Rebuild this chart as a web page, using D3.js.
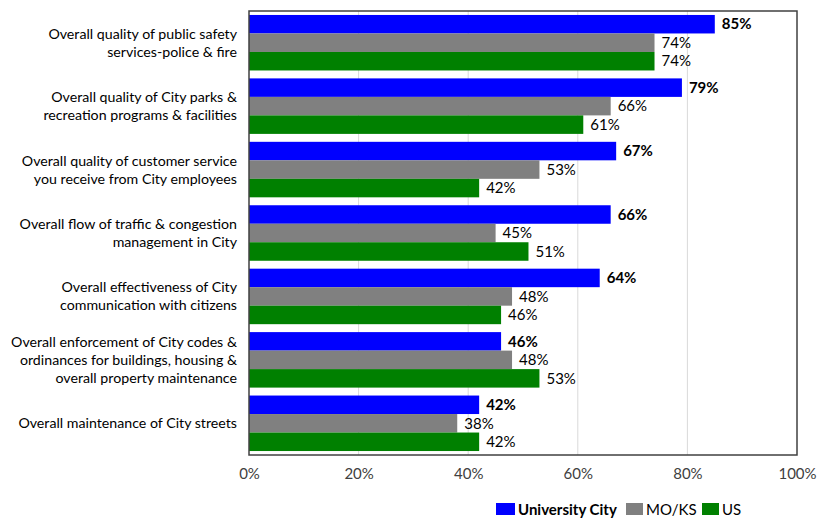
<!DOCTYPE html>
<html><head><meta charset="utf-8">
<script src="https://cdn.jsdelivr.net/npm/d3@7"></script>
<style>body{margin:0;background:#fff}svg{display:block}text{font-family:Lato,"Open Sans",sans-serif}</style>
</head><body><div id="c"></div>
<script>
const categories = [
  ["Overall quality of public safety","services-police & fire"],
  ["Overall quality of City parks &","recreation programs & facilities"],
  ["Overall quality of customer service","you receive from City employees"],
  ["Overall flow of traffic & congestion","management in City"],
  ["Overall effectiveness of City","communication with citizens"],
  ["Overall enforcement of City codes &","ordinances for buildings, housing &","overall property maintenance"],
  ["Overall maintenance of City streets"]
];
const seriesNames = ["University City","MO/KS","US"];
const universityCity = [85,79,67,66,64,46,42];
const moks = [74,66,53,45,48,48,38];
const us = [74,61,42,51,46,53,42];
const seriesValues = [universityCity, moks, us];
const xTicks = [0,20,40,60,80,100];
const colors = ["#0000FF","#808080","#008000"];

const W=817,H=518;
const m={l:249,r:20,t:11,b:63};
const pw=W-m.l-m.r, ph=H-m.t-m.b;
const svg=d3.select("#c").append("svg").attr("width",W).attr("height",H);
const g=svg.append("g").attr("transform",`translate(${m.l},${m.t})`);
const x=d3.scaleLinear().domain([0,100]).range([0,pw]);
const y0=d3.scaleBand().domain(d3.range(categories.length)).range([0,ph]).paddingInner(0.125).paddingOuter(0.0625);
const y1=d3.scaleBand().domain(d3.range(3)).range([0,y0.bandwidth()]);

g.selectAll(".grid").data(xTicks.slice(1,-1)).join("line")
  .attr("x1",d=>x(d)).attr("x2",d=>x(d)).attr("y1",0).attr("y2",ph)
  .attr("stroke","#d9d9d9").attr("stroke-width",1);

const groups=g.selectAll(".grp").data(categories).join("g")
  .attr("transform",(d,i)=>`translate(0,${y0(i)})`);
groups.each(function(d,i){
  const gg=d3.select(this);
  seriesValues.forEach((vals,s)=>{
    gg.append("rect").attr("x",0).attr("y",y1(s)).attr("width",x(vals[i])).attr("height",y1.bandwidth()).attr("fill",colors[s]);
    gg.append("text").attr("x",x(vals[i])+7).attr("y",y1(s)+y1.bandwidth()/2).attr("dy","0.35em")
      .attr("font-size",15).attr("font-weight",s===0?"bold":"normal").attr("fill","#000").text(vals[i]+"%");
  });
});

// category labels
categories.forEach((lines,i)=>{
  const cy=m.t+y0(i)+y0.bandwidth()/2;
  const lh=18;
  const t=svg.append("text").attr("text-anchor","end").attr("font-size",14.2).attr("fill","#000");
  lines.forEach((ln,k)=>{
    t.append("tspan").attr("x",237).attr("y",cy+(k-(lines.length-1)/2)*lh).attr("dy","0.35em").text(ln);
  });
});

// border
g.append("rect").attr("x",0).attr("y",0).attr("width",pw).attr("height",ph).attr("fill","none").attr("stroke","#404040").attr("stroke-width",1.5);

// x axis
const ax=g.append("g").attr("transform",`translate(0,${ph})`).call(d3.axisBottom(x).tickValues(xTicks).tickFormat(d=>d+"%").tickSize(0).tickPadding(13));
ax.select(".domain").remove();
ax.selectAll("text").attr("font-size",15).attr("fill","#404040").style("font-family","Lato,'Open Sans',sans-serif");

// legend
const leg=[{x:496,w:19},{x:626,w:17},{x:702,w:17}];
const lg=svg.append("g");
seriesNames.forEach((n,s)=>{
  lg.append("rect").attr("x",leg[s].x).attr("y",503).attr("width",leg[s].w).attr("height",12).attr("fill",colors[s]);
  lg.append("text").attr("x",leg[s].x+leg[s].w+3).attr("y",510).attr("dy","0.35em").attr("font-size",15)
    .attr("font-weight",s===0?"bold":"normal").attr("fill","#000").text(n);
});
</script></body></html>
